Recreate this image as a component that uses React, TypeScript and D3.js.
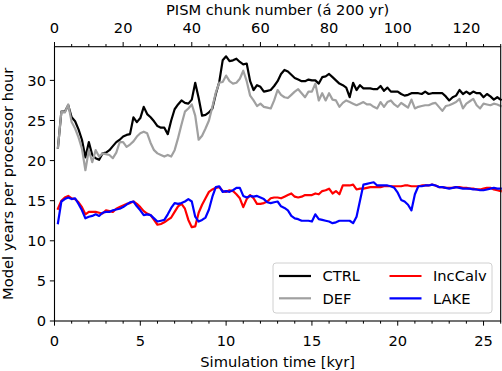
import * as d3 from 'd3'

// one value per PISM chunk (200 yr), chunks 1..130
const chunks = d3.range(1, 131)

const ctrl = [
  21.6, 26.1, 26.1, 26.9, 25.4, 24.9, 23.9, 22.6, 20.4, 22.3,
  20.7, 20.3, 20.1, 20.9, 21.0, 21.3, 21.8, 22.3, 22.6, 23.0,
  23.2, 23.3, 25.4, 24.8, 25.3, 26.7, 25.8, 25.4, 24.9, 24.3,
  24.1, 24.1, 23.3, 25.0, 26.4, 27.0, 27.5, 27.2, 27.1, 27.6,
  29.7, 27.8, 25.6, 25.7, 26.0, 26.5, 28.3, 29.8, 32.5, 33.0,
  32.4, 32.5, 32.7, 32.3, 32.0, 32.1, 29.9, 28.8, 29.4, 29.2,
  28.6, 28.7, 28.8, 29.3, 29.9, 30.8, 31.3, 31.1, 30.7, 30.3,
  30.1, 29.9, 29.9, 30.1, 30.0, 30.0, 29.6, 30.4, 30.5, 30.8,
  30.4, 30.0, 29.6, 29.4, 29.1, 27.9, 29.7, 28.8, 29.4, 29.0,
  29.0, 29.0, 28.9, 28.9, 29.3, 28.7, 29.1, 28.6, 28.6, 28.6,
  28.3, 28.1, 28.2, 28.4, 28.4, 28.4, 28.3, 28.6, 28.3, 28.4,
  28.4, 28.4, 28.4, 28.0, 27.5, 27.9, 28.1, 28.8, 28.3, 28.6,
  28.3, 28.6, 28.4, 28.4, 27.9, 28.3, 28.0, 27.6, 27.9, 27.6,
]

const def = [
  21.6, 26.1, 26.0, 27.0, 24.8, 24.0, 22.9, 21.5, 18.8, 21.3,
  19.8, 21.3, 20.5, 20.9, 20.8, 20.7, 20.3, 21.0, 22.3, 22.3,
  21.7, 22.0, 22.4, 23.0, 23.4, 23.6, 23.4, 22.2, 21.3, 20.9,
  20.7, 20.5, 20.7, 20.5, 21.3, 22.8, 24.5, 26.1, 26.5, 27.0,
  25.6, 22.6, 23.1, 24.0, 25.0, 26.7, 28.5, 29.7, 29.8, 30.6,
  29.9, 29.6, 29.7, 30.2, 31.2, 29.9, 28.1, 27.5, 26.8, 27.1,
  26.7, 26.6, 26.5, 27.5, 28.8, 28.2, 27.9, 27.8, 28.2, 28.6,
  28.9, 28.4, 27.9, 28.6, 28.6, 29.6, 27.5, 28.4, 27.5, 28.4,
  27.6, 27.5, 26.7, 27.2, 27.5, 27.3, 27.1, 26.9, 27.1, 27.3,
  27.0, 27.0, 26.7, 26.5, 27.3, 26.7, 27.3, 27.5, 27.0, 26.7,
  27.2, 26.9, 26.6, 27.6, 26.5, 26.7, 26.8, 26.9, 26.9, 27.1,
  27.2, 26.7, 26.2, 26.8, 26.9, 27.1, 27.3, 27.7, 26.5, 27.1,
  27.4, 27.7, 26.9, 26.5, 27.1, 27.0, 26.9, 27.1, 27.0, 26.8,
]

const incCalv = [
  14.0, 15.0, 15.4, 15.6, 15.3, 15.2, 14.8, 14.2, 13.3, 13.6,
  13.6, 13.6, 13.5, 13.4, 13.8, 13.7, 13.6, 14.0, 14.2, 14.4,
  14.6, 14.7, 14.9, 14.6, 14.2, 13.7, 13.4, 13.2, 12.6, 12.0,
  12.1, 12.3, 12.6, 12.9, 13.6, 14.3, 14.6, 14.0, 12.6, 11.7,
  11.8, 13.5, 14.5, 15.3, 16.1, 16.4, 16.6, 16.7, 16.2, 16.1,
  16.3, 16.2, 15.8, 15.3, 14.2, 15.2, 15.7, 15.3, 14.6, 14.6,
  14.7, 14.9, 15.3, 15.4, 15.4, 15.3, 15.5, 15.7, 15.9, 15.5,
  15.4, 15.5, 15.7, 15.7, 15.7, 15.9, 15.8, 16.2, 16.3, 16.5,
  15.9, 16.2, 15.8, 16.9, 16.9, 16.9, 17.0, 16.4, 16.5, 16.5,
  16.6, 16.7, 16.7, 16.7, 16.7, 16.8, 16.8, 16.8, 16.8, 16.8,
  16.8, 16.9, 16.9, 16.8, 16.8, 16.8, 16.9, 16.9, 16.9, 17.0,
  16.9, 16.7, 16.7, 16.6, 16.6, 16.6, 16.7, 16.7, 16.6, 16.6,
  16.5, 16.5, 16.4, 16.4, 16.5, 16.6, 16.6, 16.4, 16.3, 16.2,
]

const lake = [
  12.2, 14.9, 15.2, 15.4, 15.2, 15.3, 14.6, 13.8, 12.8, 13.0,
  13.1, 13.3, 13.1, 13.5, 13.6, 13.6, 13.8, 13.9, 14.0, 14.2,
  14.5, 14.8, 14.9, 14.3, 13.8, 13.2, 13.3, 13.2, 12.8, 12.4,
  12.5, 12.6, 13.3, 14.1, 14.7, 14.6, 14.7, 14.9, 15.2, 14.9,
  13.0, 12.4, 12.6, 12.9, 13.9, 15.5, 16.7, 16.8, 16.1, 16.2,
  16.1, 16.3, 16.6, 16.6, 15.6, 15.4, 15.6, 15.5, 15.6, 15.4,
  15.2, 14.8, 14.7, 14.8, 14.9, 14.3, 14.1, 13.8, 13.1, 12.8,
  12.7, 12.5, 12.5, 12.5, 12.4, 13.3, 12.7, 12.6, 12.5, 12.4,
  12.2, 12.3, 12.5, 12.5, 12.5, 12.5, 12.2, 13.0, 15.0, 17.0,
  17.1, 17.2, 17.3, 16.9, 16.9, 16.9, 16.9, 16.8, 16.6, 16.0,
  15.1, 14.9, 14.5, 13.8, 15.8, 16.8, 16.8, 16.9, 16.9, 17.0,
  16.9, 16.7, 16.7, 16.6, 16.5, 16.6, 16.7, 16.6, 16.5, 16.5,
  16.5, 16.4, 16.4, 16.3, 16.3, 16.4, 16.5, 16.6, 16.5, 16.5,
]

const series = [
  { name: 'CTRL', values: ctrl, color: '#000000' },
  { name: 'DEF', values: def, color: '#a0a0a0' },
  { name: 'IncCalv', values: incCalv, color: '#ff0000' },
  { name: 'LAKE', values: lake, color: '#0000ff' },
]

const width = 502
const height = 371
const margin = { top: 46.7, right: 1.3, bottom: 50, left: 54.5 }
const font = 'DejaVu Sans, sans-serif'
const fs = 14.67
const major = 4.67
const minor = 2.67

export default function App() {
  const x = d3.scaleLinear().domain([0, 26]).range([margin.left, width - margin.right])
  const xTop = d3.scaleLinear().domain([0, 130]).range([margin.left, width - margin.right])
  const y = d3.scaleLinear().domain([0, 34.2]).range([height - margin.bottom, margin.top])

  const line = d3
    .line<number>()
    .x((_, i) => x(chunks[i] * 0.2))
    .y((d) => y(d))

  const x0 = margin.left
  const x1 = width - margin.right
  const y0 = height - margin.bottom
  const y1 = margin.top

  const lx = 273
  const ly = 263

  return (
    <svg width={width} height={height} style={{ position: 'absolute', left: 0, top: 0 }} fontFamily={font}>
      <rect width={width} height={height} fill="#fff" />
      <g fill="none" strokeWidth={2.2} strokeLinejoin="round" strokeLinecap="square">
        {series.map((s) => (
          <path key={s.name} d={line(s.values) || ''} stroke={s.color} />
        ))}
      </g>

      {/* bottom axis */}
      {d3.range(0, 27, 1).map((t) => (
        <line key={'bm' + t} x1={x(t)} x2={x(t)} y1={y0} y2={y0 + (t % 5 === 0 ? major : minor)} stroke="#000" strokeWidth={1} />
      ))}
      {x.ticks(6).filter((t) => t <= 25).map((t) => (
        <text key={'bl' + t} x={x(t)} y={y0 + 25} fontSize={fs} textAnchor="middle">{t}</text>
      ))}
      <text x={(x0 + x1) / 2} y={height - 4.5} fontSize={fs} textAnchor="middle">Simulation time [kyr]</text>

      {/* top axis */}
      {d3.range(0, 131, 5).map((c) => (
        <line key={'tm' + c} x1={xTop(c)} x2={xTop(c)} y1={y1} y2={y1 - (c % 20 === 0 ? major : minor)} stroke="#000" strokeWidth={1} />
      ))}
      {d3.range(0, 121, 20).map((c) => (
        <text key={'tl' + c} x={xTop(c)} y={y1 - 14} fontSize={fs} textAnchor="middle">{c}</text>
      ))}
      <text x={(x0 + x1) / 2} y={15} fontSize={fs} textAnchor="middle">PISM chunk number (á 200 yr)</text>

      {/* left axis */}
      {y.ticks(7).map((t) => (
        <g key={'yl' + t}>
          <line x1={x0 - major} x2={x0} y1={y(t)} y2={y(t)} stroke="#000" strokeWidth={1} />
          <text x={x0 - 8.5} y={y(t) + 5.3} fontSize={fs} textAnchor="end">{t}</text>
        </g>
      ))}
      <text transform={`translate(12.5,${(y0 + y1) / 2}) rotate(-90)`} fontSize={fs} textAnchor="middle">
        Model years per processor hour
      </text>

      <rect x={x0} y={y1} width={x1 - x0} height={y0 - y1} fill="none" stroke="#000" strokeWidth={1.1} />

      {/* legend */}
      <rect x={lx} y={ly} width={219} height={50} rx={3} fill="#fff" fillOpacity={0.8} stroke="#d0d0d0" strokeWidth={1} />
      {series.map((s, i) => {
        const col = i < 2 ? 0 : 1
        const row = i % 2
        const ex = lx + 6 + col * 110.5
        const ey = ly + 13 + row * 22.3
        return (
          <g key={'lg' + s.name}>
            <line x1={ex} x2={ex + 32} y1={ey} y2={ey} stroke={s.color} strokeWidth={2.2} />
            <text x={ex + 43.5} y={ey + 5.3} fontSize={fs}>{s.name}</text>
          </g>
        )
      })}
    </svg>
  )
}
